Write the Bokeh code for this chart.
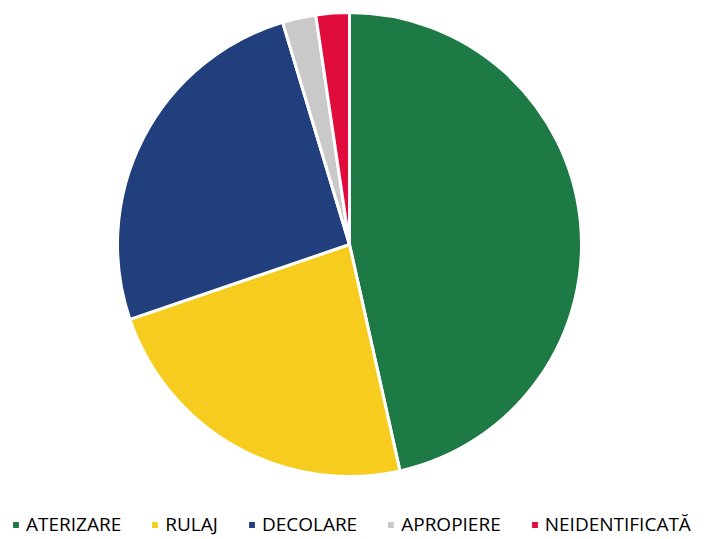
import math
from bokeh.plotting import figure
from bokeh.models import ColumnDataSource, Legend, LegendItem
from bokeh.embed import file_html
from bokeh.resources import INLINE

categories = ["ATERIZARE", "RULAJ", "DECOLARE", "APROPIERE", "NEIDENTIFICATĂ"]
counts = [20, 10, 11, 1, 1]
colors = ["#1d7a45", "#f6cd1e", "#213f7c", "#c9c9c9", "#df0c3c"]

total = sum(counts)
starts, ends = [], []
acc = 0
for c in counts:
    starts.append(math.pi / 2 - 2 * math.pi * acc / total)
    acc += c
    ends.append(math.pi / 2 - 2 * math.pi * acc / total)

W, H = 704, 539
p = figure(width=W, height=H, x_range=(0, W), y_range=(0, H),
           output_backend="svg", toolbar_location=None,
           x_axis_location=None, y_axis_location=None, min_border=0)
p.grid.visible = False
p.outline_line_color = None
p.background_fill_color = "white"

cx, cy, r = 349, 295, 232
src = ColumnDataSource(dict(x=[cx] * len(counts), y=[cy] * len(counts),
                            start=starts, end=ends, color=colors, cat=categories))
wr = p.wedge(x="x", y="y", radius=r, start_angle="start", end_angle="end",
             direction="clock", fill_color="color", line_color="white",
             line_width=3, source=src)

items = [LegendItem(label=cat, renderers=[wr], index=i) for i, cat in enumerate(categories)]

legend = Legend(items=items, orientation="horizontal", location=(10, 2),
                label_text_font="Open Sans", label_text_font_size="19px",
                label_text_color="#000000", glyph_width=11, glyph_height=11,
                label_height=16, label_standoff=5, spacing=28, padding=0, margin=0,
                border_line_color=None, background_fill_alpha=0)
p.add_layout(legend)

open("out.html", "w").write(file_html(p, INLINE))
